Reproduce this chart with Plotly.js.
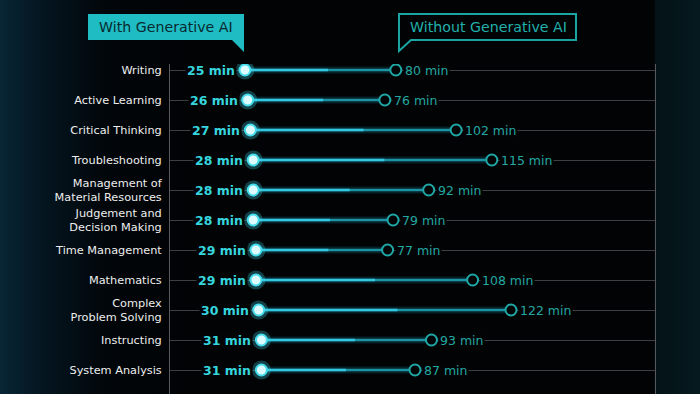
<!DOCTYPE html>
<html>
<head>
<meta charset="utf-8">
<script src="https://cdn.plot.ly/plotly-3.0.1.min.js"></script>
<style>
  html, body { margin:0; padding:0; background:#010305; }
  #chart { width:700px; height:394px;
    background:
      linear-gradient(to right, rgba(8,40,56,0.95) 0%, rgba(5,26,38,0.8) 6%, rgba(2,10,16,0.5) 15%, rgba(1,3,5,0) 26%, rgba(1,3,5,0) 93.4%, rgba(5,24,30,0.75) 93.7%, rgba(6,28,34,0.9) 100%),
      #010305; }
</style>
</head>
<body>
<div id="chart"></div>
<script>
const categories = ["Writing","Active Learning","Critical Thinking","Troubleshooting",
  "Management of<br>Material Resources","Judgement and<br>Decision Making","Time Management",
  "Mathematics","Complex<br>Problem Solving","Instructing","System Analysis"];
const withAI = [25,26,27,28,28,28,29,29,30,31,31];
const withoutAI = [80,76,102,115,92,79,77,108,122,93,87];
const seriesNames = ["With Generative AI","Without Generative AI"];

// pixel -> paper helpers (plot area 170..655 x 64..394)
const L=170, R=655, T=64, B=394;
const fx = p => (p-L)/(R-L);
const fy = p => (B-p)/(B-T);

const segX=[], segY=[], hiX=[], hiY=[];
categories.forEach((c,i)=>{
  segX.push(withAI[i], withoutAI[i], null); segY.push(c,c,null);
  hiX.push(withAI[i], withAI[i] + 0.55*(withoutAI[i]-withAI[i]), null); hiY.push(c,c,null);
});

const traces = [
  {type:'scatter', mode:'lines', x:segX, y:segY, line:{color:'rgba(40,190,225,0.16)', width:7}, hoverinfo:'skip', showlegend:false},
  {type:'scatter', mode:'lines', x:segX, y:segY, line:{color:'#1c94a4', width:2.5}, hoverinfo:'skip', showlegend:false},
  {type:'scatter', mode:'lines', x:hiX, y:hiY, line:{color:'#32c6e0', width:2.5}, hoverinfo:'skip', showlegend:false},
  {type:'scatter', mode:'markers', x:withAI, y:categories, marker:{size:19, color:'rgba(70,225,245,0.28)'}, hoverinfo:'skip', showlegend:false},
  {type:'scatter', mode:'markers', name:seriesNames[0], x:withAI, y:categories, marker:{size:11, color:'#dcfcff', line:{color:'#45dcec', width:2}}, showlegend:false},
  {type:'scatter', mode:'markers', name:seriesNames[1], x:withoutAI, y:categories, marker:{size:11, color:'#020406', line:{color:'#1fa8a6', width:2}}, showlegend:false}
];

const annotations = [];
categories.forEach((c,i)=>{
  annotations.push({x:withAI[i], y:c, xref:'x', yref:'y', text:withAI[i]+' min', showarrow:false,
    xanchor:'right', xshift:-8, font:{family:'DejaVu Sans', size:12.5, color:'#36d6de', weight:'bold'},
    bgcolor:'#020406', borderpad:1});
  annotations.push({x:withoutAI[i], y:c, xref:'x', yref:'y', text:withoutAI[i]+' min', showarrow:false,
    xanchor:'left', xshift:7, font:{family:'DejaVu Sans', size:12.5, color:'#24a8a2'},
    bgcolor:'#020406', borderpad:1});
});
annotations.push({xref:'paper', yref:'paper', x:fx(166), y:fy(27), text:seriesNames[0], showarrow:false,
  xanchor:'center', yanchor:'middle', font:{family:'DejaVu Sans', size:14.2, color:'#082a2e'}});
annotations.push({xref:'paper', yref:'paper', x:fx(488), y:fy(27), text:seriesNames[1], showarrow:false,
  xanchor:'center', yanchor:'middle', font:{family:'DejaVu Sans', size:14.2, color:'#22b0aa'}});

const P = (pts) => 'M ' + pts.map(p=>fx(p[0])+','+fy(p[1])).join(' L ') + ' Z';
const shapes = [
  {type:'path', xref:'paper', yref:'paper', path:P([[88,14],[244,14],[244,52],[232,40],[88,40]]),
   fillcolor:'#1fbcc4', line:{width:0}, layer:'above'},
  {type:'path', xref:'paper', yref:'paper', path:P([[399,14],[576,14],[576,40],[411,40],[399,51]]),
   fillcolor:'rgba(0,0,0,0)', line:{color:'#1aa5a2', width:2}, layer:'above'}
];

const layout = {
  width:700, height:394,
  margin:{l:L, r:700-R, t:T, b:0, pad:0},
  paper_bgcolor:'rgba(0,0,0,0)', plot_bgcolor:'rgba(0,0,0,0)',
  showlegend:false,
  xaxis:{range:[-2.33,174.5], showgrid:false, zeroline:false, showticklabels:false, showline:false, fixedrange:true},
  yaxis:{type:'category', range:[10.8,-0.2], showgrid:true, gridcolor:'#3b4043', gridwidth:1,
    showline:true, mirror:true, linecolor:'#55595c', linewidth:1, zeroline:false, ticks:'',
    ticklabelstandoff:5,
    tickfont:{family:'DejaVu Sans', size:11.3, color:'#eeeeee'}},
  annotations:annotations, shapes:shapes,
  font:{family:'DejaVu Sans'}
};
Plotly.newPlot('chart', traces, layout, {displayModeBar:false, staticPlot:true});
</script>
</body>
</html>
